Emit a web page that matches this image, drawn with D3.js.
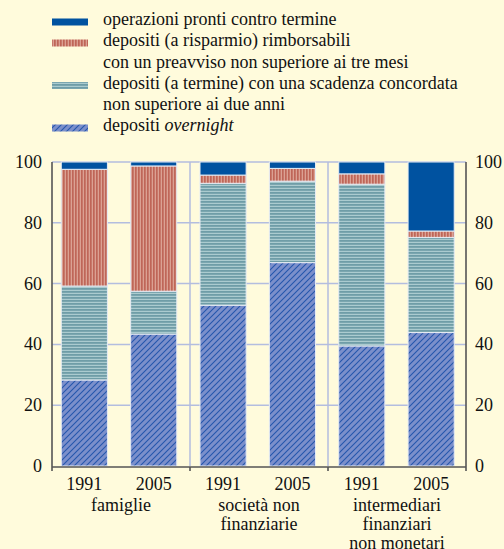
<!DOCTYPE html>
<html>
<head>
<meta charset="utf-8">
<script src="https://cdn.jsdelivr.net/npm/d3@7"></script>
</head>
<body style="margin:0;background:#fffbdc">
<script>
// categories
let groups = ['famiglie', 'società non|finanziarie', 'intermediari|finanziari|non monetari']
let years = ['1991', '2005', '1991', '2005', '1991', '2005']
let yTicks = [0, 20, 40, 60, 80, 100]

// series values (% of total), bottom to top
let overnight = [28.3, 43.4, 52.9, 66.9, 39.5, 43.9]
let termine = [30.9, 14.1, 40.1, 26.8, 53.2, 31.3]
let risparmio = [38.4, 41.2, 2.7, 4.2, 3.4, 2.1]
let pronti = [2.4, 1.3, 4.3, 2.1, 3.9, 22.7]

let seriesKeys = ['overnight', 'termine', 'risparmio', 'pronti']
let legendLabels = [
  ['operazioni pronti contro termine'],
  ['depositi (a risparmio) rimborsabili', 'con un preavviso non superiore ai tre mesi'],
  ['depositi (a termine) con una scadenza concordata', 'non superiore ai due anni'],
  ['depositi ', 'overnight']
]

let W = 504, H = 549
let pL = 52, pR = 466, pT = 162, pB = 466
let fs = 18

function label (sel) {
  return sel.attr('font-family', 'Times New Roman')
    .style('font-family', "'Liberation Serif', 'Times New Roman', Times")
    .attr('font-size', fs).attr('fill', '#111')
}

let svg = d3.select('body').append('svg').attr('width', W).attr('height', H).style('display', 'block')
let defs = svg.append('defs')

// patterns
let p1 = defs.append('pattern').attr('id', 'pat_risp').attr('patternUnits', 'userSpaceOnUse')
  .attr('width', 3).attr('height', 3)
p1.append('rect').attr('width', 3).attr('height', 3).attr('fill', '#dba193')
p1.append('rect').attr('width', 1.7).attr('height', 3).attr('fill', '#bf6658')

let p2 = defs.append('pattern').attr('id', 'pat_term').attr('patternUnits', 'userSpaceOnUse')
  .attr('width', 3).attr('height', 3)
p2.append('rect').attr('width', 3).attr('height', 3).attr('fill', '#abcbcf')
p2.append('rect').attr('width', 3).attr('height', 1.8).attr('fill', '#6f9da7')

let p3 = defs.append('pattern').attr('id', 'pat_over').attr('patternUnits', 'userSpaceOnUse')
  .attr('width', 6).attr('height', 6)
p3.append('rect').attr('width', 6).attr('height', 6).attr('fill', '#7b8fcb')
p3.append('path').attr('d', 'M-1,7 L7,-1 M-4,4 L4,-4 M2,10 L10,2')
  .attr('stroke', '#2556ad').attr('stroke-width', 1.1)

let fills = {
  overnight: 'url(#pat_over)',
  termine: 'url(#pat_term)',
  risparmio: 'url(#pat_risp)',
  pronti: '#0052a0'
}

let x = d3.scaleBand().domain(d3.range(years.length)).range([49.5, 466]).paddingInner(0.335).paddingOuter(0.17)
let y = d3.scaleLinear().domain([0, 100]).range([pB, pT])

// grid
let grid = svg.append('g').attr('stroke', '#b3bddf').attr('stroke-width', 1.5)
grid.selectAll('line.h').data(yTicks.slice(1)).enter().append('line')
  .attr('x1', pL).attr('x2', pR)
  .attr('y1', function (d) { return y(d) }).attr('y2', function (d) { return y(d) })
let seps = [pL + (pR - pL) / 3, pL + 2 * (pR - pL) / 3]
grid.selectAll('line.v').data(seps).enter().append('line')
  .attr('x1', function (d) { return d }).attr('x2', function (d) { return d })
  .attr('y1', pT).attr('y2', pB)

// stacked bars
let table = years.map(function (yr, i) {
  return {overnight: overnight[i], termine: termine[i], risparmio: risparmio[i], pronti: pronti[i], i: i}
})
let stacked = d3.stack().keys(seriesKeys)(table)

svg.append('g').selectAll('g').data(stacked).enter().append('g')
  .attr('fill', function (d) { return fills[d.key] })
  .selectAll('rect').data(function (d) { return d }).enter().append('rect')
  .attr('x', function (d) { return x(d.data.i) })
  .attr('width', x.bandwidth())
  .attr('y', function (d) { return y(d[1]) })
  .attr('height', function (d) { return y(d[0]) - y(d[1]) })
  .attr('stroke', '#e6ecf4').attr('stroke-width', 1)

// axes
let ax = svg.append('g').attr('stroke', '#555').attr('stroke-width', 1.6)
ax.append('line').attr('x1', pL).attr('x2', pL).attr('y1', pT).attr('y2', pB + 1)
ax.append('line').attr('x1', pR).attr('x2', pR).attr('y1', pT).attr('y2', pB + 1)
ax.append('line').attr('x1', pL).attr('x2', pR).attr('y1', pB + 1).attr('y2', pB + 1)
ax.selectAll('line.t').data([pL].concat(seps).concat([pR])).enter().append('line')
  .attr('x1', function (d) { return d }).attr('x2', function (d) { return d })
  .attr('y1', pB + 1).attr('y2', pB + 5)

// y tick labels, placed with the scale
svg.append('g').selectAll('text').data(yTicks).enter().append('text')
  .attr('x', pL - 10).attr('y', function (d) { return y(d) + 6 }).attr('text-anchor', 'end')
  .text(function (d) { return d })
  .call(label)
svg.append('g').selectAll('text').data(yTicks).enter().append('text')
  .attr('x', pR + 9).attr('y', function (d) { return y(d) + 6 })
  .text(function (d) { return d })
  .call(label)

// year labels
svg.append('g').selectAll('text').data(years).enter().append('text')
  .attr('x', function (d, i) { return x(i) + x.bandwidth() / 2 })
  .attr('y', 489.5).attr('text-anchor', 'middle')
  .text(function (d) { return d })
  .call(label)

// group labels
let gl = svg.append('g').selectAll('text').data(groups).enter().append('text')
  .attr('x', function (d, i) { return pL + (i + 0.5) * (pR - pL) / 3 })
  .attr('y', 511).attr('text-anchor', 'middle')
  .call(label)
gl.selectAll('tspan').data(function (d) { return d.split('|') }).enter().append('tspan')
  .attr('x', function () { return d3.select(this.parentNode).attr('x') })
  .attr('dy', function (d, i) { return i ? 18.8 : 0 })
  .text(function (d) { return d })

// legend
let legendRows = [22, 43, 85.5, 128]
let legendKeys = ['pronti', 'risparmio', 'termine', 'overnight']
let lg = svg.append('g')
legendKeys.forEach(function (k, i) {
  lg.append('rect').attr('x', 52).attr('y', legendRows[i] - 3.5).attr('width', 36).attr('height', 7)
    .attr('fill', fills[k])
  let t = lg.append('text').attr('x', 103).attr('y', legendRows[i] + 3.3).call(label)
  if (k === 'overnight') {
    t.append('tspan').text(legendLabels[i][0])
    t.append('tspan').attr('font-style', 'italic').text(legendLabels[i][1])
  } else {
    t.selectAll('tspan').data(legendLabels[i]).enter().append('tspan')
      .attr('x', 103).attr('dy', function (d, j) { return j ? 21.2 : 0 })
      .text(function (d) { return d })
  }
})
</script>
</body>
</html>
